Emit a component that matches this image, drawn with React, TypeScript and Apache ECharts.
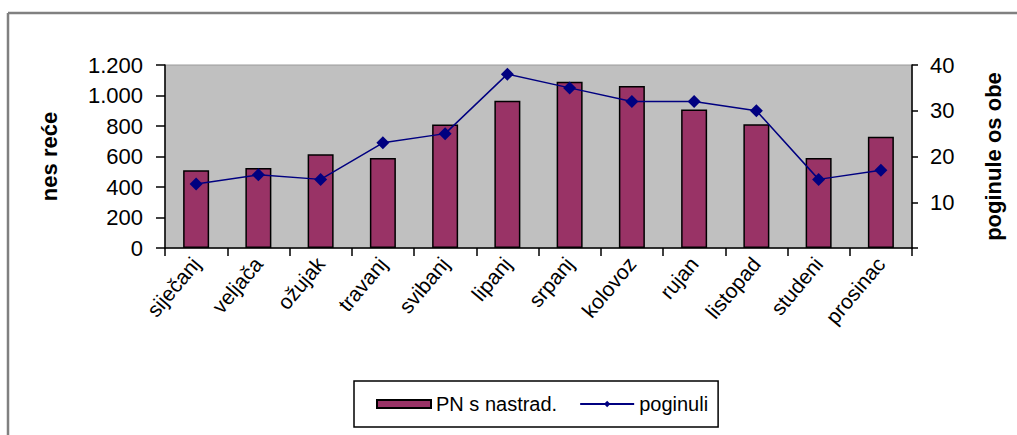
import React, { useEffect, useRef } from "react";
import * as echarts from "echarts";

const categories = [
  "siječanj", "veljača", "ožujak", "travanj", "svibanj", "lipanj",
  "srpanj", "kolovoz", "rujan", "listopad", "studeni", "prosinac",
];
const accidents = [510, 525, 615, 590, 810, 965, 1090, 1062, 909, 811, 590, 730];
const killed = [14, 16, 15, 23, 25, 38, 35, 32, 32, 30, 15, 17];
const leftTicks = { min: 0, max: 1200, interval: 200 };
const rightTicks = { min: 0, max: 40, interval: 10 };

const FONT = "Liberation Sans, Arial, sans-serif";

export default function App() {
  const ref = useRef<HTMLDivElement>(null);
  useEffect(() => {
    document.body.style.margin = "0";
    const chart = echarts.init(ref.current!, null, { renderer: "svg" });
    chart.setOption({
      animation: false,
      backgroundColor: "#ffffff",
      textStyle: { fontFamily: FONT },
      grid: {
        left: 165,
        right: 105,
        top: 65,
        bottom: 187,
        show: true,
        backgroundColor: "#c0c0c0",
        borderColor: "#9a9a9a",
        borderWidth: 1,
      },
      legend: {
        left: 354,
        top: 381,
        width: 368,
        padding: [13, 10, 13, 22],
        borderColor: "#000",
        borderWidth: 1.5,
        itemWidth: 54,
        itemHeight: 8,
        itemGap: 22,
        textStyle: { fontSize: 20, color: "#000", fontFamily: FONT },
        data: [
          { name: "PN s nastrad.", icon: "rect" },
          { name: "poginuli" },
        ],
      },
      xAxis: {
        type: "category",
        data: categories,
        axisLine: { lineStyle: { color: "#000", width: 1.5 } },
        axisTick: { show: true, length: 8, lineStyle: { color: "#000", width: 1.5 } },
        axisLabel: {
          rotate: 50,
          fontSize: 21,
          color: "#000",
          margin: 12,
          fontFamily: FONT,
        },
      },
      yAxis: [
        {
          type: "value",
          ...leftTicks,
          name: "nes reće",
          nameLocation: "middle",
          nameGap: 105,
          nameRotate: 90,
          nameTextStyle: { fontSize: 22, fontWeight: "bold", color: "#000", fontFamily: FONT },
          axisLine: { show: true, lineStyle: { color: "#000", width: 1.5 } },
          axisTick: { show: true, length: 9, lineStyle: { color: "#000", width: 1.5 } },
          axisLabel: {
            fontSize: 22,
            color: "#000",
            margin: 22,
            fontFamily: FONT,
            formatter: (v: number) => v.toLocaleString("de-DE"),
          },
          splitLine: { show: false },
        },
        {
          type: "value",
          ...rightTicks,
          position: "right",
          name: "poginule os obe",
          nameLocation: "middle",
          nameGap: 70,
          nameRotate: 90,
          nameTextStyle: { fontSize: 22, fontWeight: "bold", color: "#000", fontFamily: FONT },
          axisLine: { show: true, lineStyle: { color: "#000", width: 1.5 } },
          axisTick: { show: true, length: 6, lineStyle: { color: "#000", width: 1.5 } },
          axisLabel: {
            fontSize: 22,
            color: "#000",
            margin: 18,
            fontFamily: FONT,
            formatter: (v: number) => (v === 0 ? "" : String(v)),
          },
          splitLine: { show: false },
        },
      ],
      series: [
        {
          name: "PN s nastrad.",
          type: "bar",
          data: accidents,
          yAxisIndex: 0,
          barWidth: 26,
          itemStyle: { color: "#993366", borderColor: "#000", borderWidth: 1.5 },
        },
        {
          name: "poginuli",
          type: "line",
          data: killed,
          yAxisIndex: 1,
          symbol: "diamond",
          symbolSize: 13,
          lineStyle: { color: "#000080", width: 1.5 },
          itemStyle: { color: "#000080" },
        },
      ],
      graphic: [
        {
          type: "line",
          shape: { x1: 8, y1: 13, x2: 1017, y2: 13 },
          style: { stroke: "#808080", lineWidth: 2.5 },
        },
        {
          type: "line",
          shape: { x1: 8, y1: 13, x2: 8, y2: 435 },
          style: { stroke: "#808080", lineWidth: 2.5 },
        },
      ],
    });
    return () => chart.dispose();
  }, []);
  return <div ref={ref} style={{ width: 1017, height: 435 }} />;
}
